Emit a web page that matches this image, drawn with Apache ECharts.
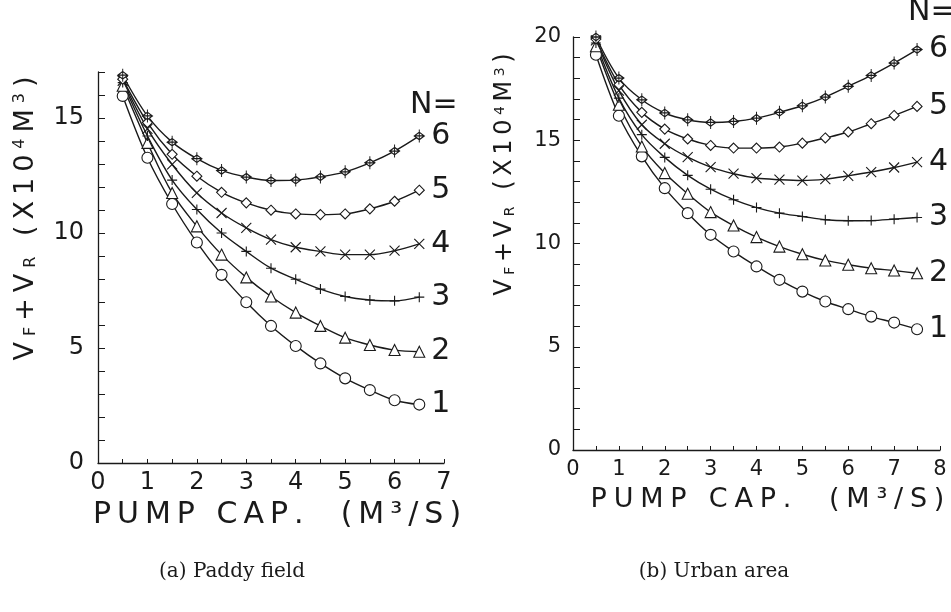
<!DOCTYPE html>
<html>
<head>
<meta charset="utf-8">
<script src="https://cdn.jsdelivr.net/npm/echarts@6/dist/echarts.min.js"></script>
<style>
  html, body { margin: 0; padding: 0; background: #fff; }
  #chart { width: 951px; height: 612px; }
</style>
</head>
<body>
<div id="chart"></div>
<script>
// pump capacity (m3/s)
const xPaddy = [0.5, 1.0, 1.5, 2.0, 2.5, 3.0, 3.5, 4.0, 4.5, 5.0, 5.5, 6.0, 6.5];
const xUrban = [0.5, 1.0, 1.5, 2.0, 2.5, 3.0, 3.5, 4.0, 4.5, 5.0, 5.5, 6.0, 6.5, 7.0, 7.5];

// VF+VR (x10^4 m3), (a) paddy field, N = 1..6
const paddyN1 = [15.96, 13.27, 11.26, 9.59, 8.18, 6.99, 5.96, 5.09, 4.33, 3.68, 3.17, 2.73, 2.54];
const paddyN2 = [16.40, 13.92, 11.74, 10.29, 9.06, 8.07, 7.24, 6.54, 5.96, 5.45, 5.13, 4.91, 4.84];
const paddyN3 = [16.54, 14.22, 12.30, 11.02, 10.00, 9.20, 8.47, 7.99, 7.56, 7.24, 7.09, 7.05, 7.21];
const paddyN4 = [16.62, 14.53, 12.98, 11.74, 10.87, 10.22, 9.71, 9.38, 9.20, 9.06, 9.06, 9.23, 9.53];
const paddyN5 = [16.69, 14.80, 13.42, 12.47, 11.77, 11.31, 10.99, 10.83, 10.80, 10.83, 11.05, 11.38, 11.86];
const paddyN6 = [16.86, 15.09, 13.95, 13.23, 12.72, 12.43, 12.28, 12.30, 12.44, 12.66, 13.05, 13.56, 14.22];

// (b) urban area, N = 1..6
const urbanN1 = [19.14, 16.19, 14.22, 12.68, 11.47, 10.42, 9.61, 8.89, 8.24, 7.67, 7.19, 6.82, 6.46, 6.17, 5.85];
const urbanN2 = [19.55, 16.72, 14.70, 13.41, 12.41, 11.52, 10.87, 10.31, 9.85, 9.48, 9.18, 8.97, 8.80, 8.69, 8.56];
const urbanN3 = [19.71, 17.04, 15.27, 14.17, 13.30, 12.63, 12.12, 11.74, 11.47, 11.31, 11.15, 11.10, 11.11, 11.18, 11.26];
const urbanN4 = [19.84, 17.40, 15.75, 14.83, 14.18, 13.70, 13.38, 13.17, 13.09, 13.05, 13.12, 13.28, 13.46, 13.68, 13.94];
const urbanN5 = [19.90, 17.69, 16.35, 15.54, 15.06, 14.75, 14.62, 14.62, 14.67, 14.86, 15.11, 15.40, 15.80, 16.20, 16.64];
const urbanN6 = [20.00, 18.01, 16.96, 16.32, 15.99, 15.86, 15.91, 16.07, 16.35, 16.67, 17.09, 17.61, 18.14, 18.74, 19.39];

const nLabels = ["1", "2", "3", "4", "5", "6"];

const INK = "#1a1a1a";
const plotFont = "'DejaVu Sans', sans-serif";

// marker per N
const symbols = [
  { symbol: "circle", size: 11 },
  { symbol: "triangle", size: 11 },
  { symbol: "path://M5,0V10M0,5H10", size: 10 },
  { symbol: "path://M0,0L10,10M10,0L0,10", size: 10 },
  { symbol: "diamond", size: 10 },
  { symbol: "path://M5,-2V12M2,5H8M5,1L8,5L5,9L2,5Z", size: [10, 13] },
];

const zip = (xs, ys) => xs.map((x, i) => [x, ys[i]]);

// plotter lettering is widely spaced: every character becomes its own rich token
const spaced = (parts) =>
  parts.map(([st, txt]) => txt.split("").map((ch) => "{" + st + "|" + ch + "}").join("")).join("");

const letterStyles = (size, pad) => ({
  c: { fontSize: size, fontFamily: plotFont, color: INK, padding: [0, pad] },
  sub: { fontSize: Math.round(size * 0.6), fontFamily: plotFont, color: INK, verticalAlign: "bottom", padding: [0, pad] },
  sup: { fontSize: Math.round(size * 0.6), fontFamily: plotFont, color: INK, verticalAlign: "top", padding: [0, pad] },
});

const xTitle = spaced([["c", "PUMP CAP.  (M³/S)"]]);
const yTitle = spaced([["c", "V"], ["sub", "F"], ["c", "+V"], ["sub", "R"], ["c", " (X10"], ["sup", "4"], ["c", "M"], ["sup", "3"], ["c", ")"]]);

const makeSeries = (idx, xs, rows, labelSize) =>
  rows.map((ys, n) => ({
    type: "line",
    xAxisIndex: idx,
    yAxisIndex: idx,
    data: zip(xs, ys),
    smooth: 0.35,
    symbol: symbols[n].symbol,
    symbolSize: symbols[n].size,
    showAllSymbol: true,
    lineStyle: { color: INK, width: 1.4 },
    itemStyle: { color: "#fff", borderColor: INK, borderWidth: 1.1 },
    endLabel: {
      show: true,
      formatter: nLabels[n],
      distance: 12,
      color: INK,
      fontSize: labelSize,
      fontFamily: plotFont,
    },
    emphasis: { disabled: true },
  }));

const makeXAxis = (idx, max, fs, margin, nameSize, pad, nameShift) => ({
  type: "value",
  gridIndex: idx,
  min: 0,
  max: max,
  interval: 0.5,
  name: xTitle,
  nameLocation: "middle",
  nameGap: 36,
  nameTextStyle: { color: INK, padding: [0, 0, 0, nameShift], rich: letterStyles(nameSize, pad) },
  splitLine: { show: false },
  axisLine: { lineStyle: { color: INK, width: 1.3 } },
  axisTick: { inside: true, length: 4, lineStyle: { color: INK } },
  axisLabel: {
    margin: margin,
    fontSize: fs,
    fontFamily: plotFont,
    color: INK,
    formatter: (v) => (Number.isInteger(v) ? String(v) : ""),
  },
});

const makeYAxis = (idx, max, fs, margin, nameSize, pad, gap, shift) => ({
  type: "value",
  gridIndex: idx,
  min: 0,
  max: max,
  interval: 1,
  name: yTitle,
  nameLocation: "middle",
  nameRotate: 90,
  nameGap: gap,
  nameTextStyle: { color: INK, padding: [0, 0, 0, shift], rich: letterStyles(nameSize, pad) },
  splitLine: { show: false },
  axisLine: { show: true, lineStyle: { color: INK, width: 1.3 } },
  axisTick: { show: true, inside: true, length: 7, lineStyle: { color: INK } },
  axisLabel: {
    margin: margin,
    fontSize: fs,
    fontFamily: plotFont,
    color: INK,
    formatter: (v) => (v % 5 === 0 ? String(v) : ""),
  },
});

const chart = echarts.init(document.getElementById("chart"));

chart.setOption({
  animation: false,
  backgroundColor: "#fff",
  grid: [
    { left: 98, top: 72, width: 346, height: 391, outerBoundsMode: "none" },
    { left: 573, top: 37, width: 367, height: 413, outerBoundsMode: "none" },
  ],
  xAxis: [makeXAxis(0, 7, 24, 8, 30, 3, 12), makeXAxis(1, 8, 21, 9, 27, 3.4, 22)],
  yAxis: [makeYAxis(0, 17, 24, 14, 27, 3.0, 59, 98), makeYAxis(1, 20, 21, 12, 24, 2.3, 56, 138)],
  series: [
    ...makeSeries(0, xPaddy, [paddyN1, paddyN2, paddyN3, paddyN4, paddyN5, paddyN6], 30),
    ...makeSeries(1, xUrban, [urbanN1, urbanN2, urbanN3, urbanN4, urbanN5, urbanN6], 30),
  ],
  graphic: [
    {
      type: "text",
      left: 410,
      top: 90,
      style: { text: "N=", fontSize: 30, fontFamily: plotFont, fill: INK },
    },
    {
      type: "text",
      left: 908,
      top: -3,
      style: { text: "N=", fontSize: 30, fontFamily: plotFont, fill: INK },
    },
    {
      type: "text",
      x: 232,
      y: 572,
      style: {
        text: "(a) Paddy field",
        fontSize: 20,
        fontFamily: "'DejaVu Serif', serif",
        fill: INK,
        align: "center",
        verticalAlign: "middle",
      },
    },
    {
      type: "text",
      x: 714,
      y: 572,
      style: {
        text: "(b) Urban area",
        fontSize: 20,
        fontFamily: "'DejaVu Serif', serif",
        fill: INK,
        align: "center",
        verticalAlign: "middle",
      },
    },
  ],
});
</script>
</body>
</html>
